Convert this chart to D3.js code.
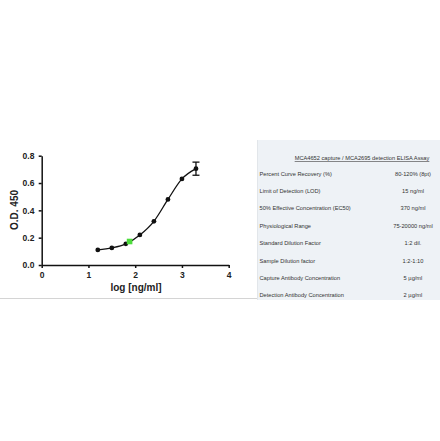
<!DOCTYPE html>
<html><head><meta charset="utf-8">
<script src="https://cdn.jsdelivr.net/npm/d3@7"></script>
<style>body{margin:0;background:#fff}svg{display:block}</style>
</head><body>
<svg id="c" width="440" height="441"></svg>
<script>
const logConc = [1.2, 1.5, 1.8, 2.1, 2.4, 2.7, 3.0, 3.3];
const od = [0.11, 0.125, 0.155, 0.22, 0.32, 0.48, 0.63, 0.705];
const odErr = [0, 0, 0, 0, 0, 0, 0, 0.048];
const ec50Point = [1.88, 0.172];
const xTicks = [0, 1, 2, 3, 4];
const yTicks = [0.0, 0.2, 0.4, 0.6, 0.8];
const tableTitle = "MCA4652 capture / MCA2695 detection ELISA Assay";
const tableLabels = ["Percent Curve Recovery (%)", "Limit of Detection (LOD)", "50% Effective Concentration (EC50)", "Physiological Range", "Standard Dilution Factor", "Sample Dilution factor", "Capture Antibody Concentration", "Detection Antibody Concentration"];
const tableValues = ["80-120% (8pt)", "15 ng/ml", "370 ng/ml", "75-20000 ng/ml", "1:2 dil.", "1:2-1:10", "5 µg/ml", "2 µg/ml"];

const svg = d3.select("#c");
const x = d3.scaleLinear().domain([0, 4]).range([41.7, 228.7]);
const y = d3.scaleLinear().domain([0, 0.8]).range([265, 155.7]);

// bottom separator line and table panel
svg.append("line").attr("x1", 0).attr("x2", 258).attr("y1", 298.5).attr("y2", 298.5).attr("stroke", "#d4d4d4").attr("stroke-width", 1);
svg.append("rect").attr("x", 257).attr("y", 140).attr("width", 183).attr("height", 160).attr("fill", "#eef2f6");
svg.append("line").attr("x1", 257.5).attr("x2", 257.5).attr("y1", 140).attr("y2", 300).attr("stroke", "#e2e6ea");

const font = "Liberation Sans, Arial, sans-serif";
const xa = svg.append("g").attr("transform", "translate(0,265)")
  .call(d3.axisBottom(x).tickValues(xTicks).tickFormat(d3.format("d")).tickSize(3).tickSizeOuter(0));
const ya = svg.append("g").attr("transform", "translate(41.7,0)")
  .call(d3.axisLeft(y).tickValues(yTicks).tickFormat(d3.format(".1f")).tickSize(3).tickSizeOuter(0));
[xa, ya].forEach(a => {
  a.select(".domain").attr("stroke", "#111").attr("stroke-width", 1.5);
  a.selectAll(".tick line").attr("stroke", "#111").attr("stroke-width", 1.5);
  a.selectAll("text").attr("font-family", font).attr("font-weight", "bold").attr("font-size", 8.5).attr("fill", "#222");
});
xa.selectAll("text").attr("dy", "0.85em");
ya.selectAll("text").attr("dx", "-0.15em");

svg.append("text").attr("transform", "translate(18,210) rotate(-90)").attr("text-anchor", "middle")
  .attr("font-family", font).attr("font-weight", "bold").attr("font-size", 10).attr("fill", "#222").text("O.D. 450");
svg.append("text").attr("x", 136).attr("y", 290.5).attr("text-anchor", "middle")
  .attr("font-family", font).attr("font-weight", "bold").attr("font-size", 10).attr("fill", "#222").text("log [ng/ml]");

const pts = logConc.map((v, i) => [v, od[i]]);
svg.append("path").datum(pts).attr("fill", "none").attr("stroke", "#111").attr("stroke-width", 1.3)
  .attr("d", d3.line().x(d => x(d[0])).y(d => y(d[1])).curve(d3.curveMonotoneX));

// error bars
logConc.forEach((v, i) => {
  if (odErr[i] > 0) {
    const g = svg.append("g").attr("stroke", "#111").attr("stroke-width", 1.3);
    g.append("line").attr("x1", x(v)).attr("x2", x(v)).attr("y1", y(od[i] - odErr[i])).attr("y2", y(od[i] + odErr[i]));
    [od[i] - odErr[i], od[i] + odErr[i]].forEach(e => g.append("line").attr("x1", x(v) - 3.5).attr("x2", x(v) + 3.5).attr("y1", y(e)).attr("y2", y(e)));
  }
});
svg.selectAll("circle.pt").data(pts).enter().append("circle").attr("class", "pt")
  .attr("cx", d => x(d[0])).attr("cy", d => y(d[1])).attr("r", 2.4).attr("fill", "#111");
svg.append("rect").attr("x", x(ec50Point[0]) - 2.8).attr("y", y(ec50Point[1]) - 2.8).attr("width", 5.6).attr("height", 5.6)
  .attr("fill", "#4ddc3c");

// table
const tf = "Liberation Sans, Arial, sans-serif";
svg.append("text").attr("x", 362).attr("y", 160).attr("text-anchor", "middle").attr("font-family", tf)
  .attr("font-size", 5.7).attr("fill", "#333").attr("text-decoration", "underline").text(tableTitle);
const rowY = d3.scaleLinear().domain([0, 7]).range([175.5, 297.3]);
tableLabels.forEach((t, i) => {
  svg.append("text").attr("x", 259.5).attr("y", rowY(i)).attr("font-family", tf).attr("font-size", 5.7).attr("fill", "#333").text(t);
  svg.append("text").attr("x", 413).attr("y", rowY(i)).attr("text-anchor", "middle").attr("font-family", tf).attr("font-size", 5.7).attr("fill", "#333").text(tableValues[i]);
});
</script>
</body></html>
